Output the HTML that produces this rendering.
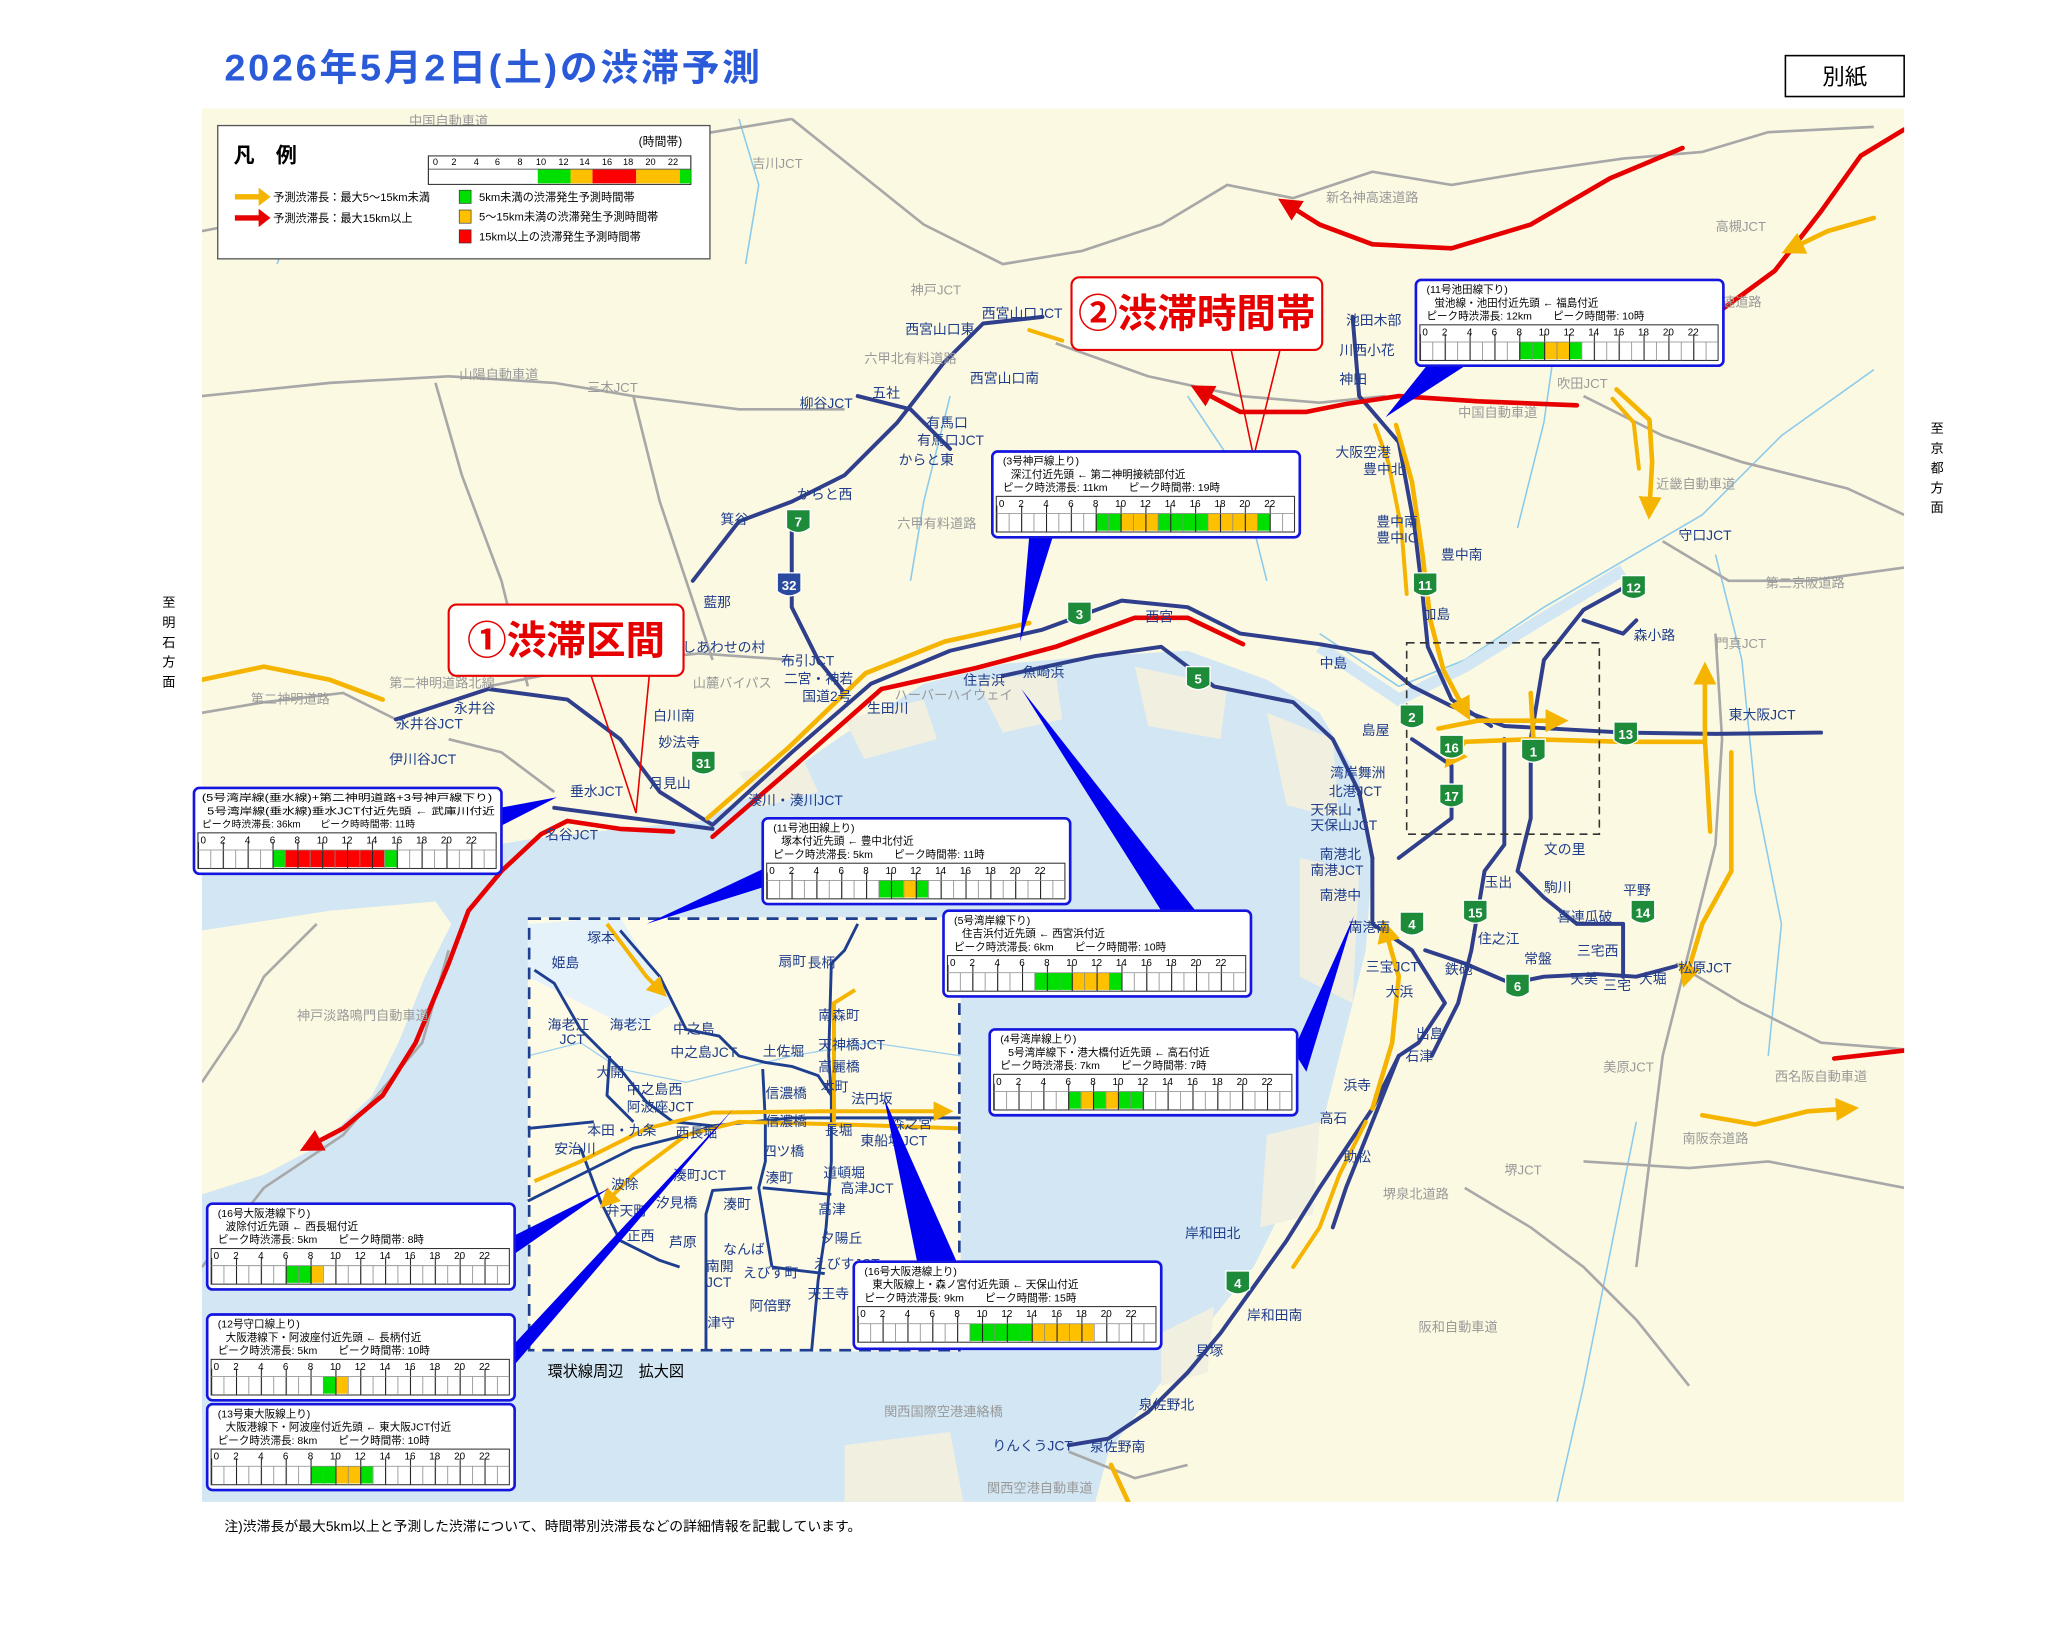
<!DOCTYPE html>
<html><head><meta charset="utf-8"><style>
html,body{margin:0;padding:0;background:#fff;}
svg{display:block;}
text{font-family:"Liberation Sans","Noto Sans CJK JP",sans-serif;}
</style></head><body>
<svg width="2048" height="1638" viewBox="0 0 1552 1241" xmlns="http://www.w3.org/2000/svg">
<defs>
<pattern id="cells" x="3" y="0" width="9.4167" height="14" patternUnits="userSpaceOnUse"><line x1="0.3" y1="0" x2="0.3" y2="14" stroke="#888" stroke-width="0.6"/></pattern>
<pattern id="ticks" x="3" y="0" width="18.833" height="30" patternUnits="userSpaceOnUse"><line x1="0.4" y1="0" x2="0.4" y2="30" stroke="#222" stroke-width="0.8"/></pattern>
<marker id="ao" markerWidth="5" markerHeight="5" refX="2.5" refY="2.5" orient="auto" markerUnits="strokeWidth"><path d="M0,0 L5,2.5 L0,5 Z" fill="#f5b400"/></marker>
<marker id="ar" markerWidth="5" markerHeight="5" refX="2.5" refY="2.5" orient="auto" markerUnits="strokeWidth"><path d="M0,0 L5,2.5 L0,5 Z" fill="#e60000"/></marker>
</defs>

<!-- title -->
<text x="170" y="61" font-size="28" font-weight="bold" fill="#2a5ad8" letter-spacing="2" textLength="408" lengthAdjust="spacingAndGlyphs">2026年5月2日(土)の渋滞予測</text>
<rect x="1353" y="42" width="90" height="31" fill="#fff" stroke="#000" stroke-width="1.2"/>
<text x="1398" y="64" font-size="17" text-anchor="middle">別紙</text>
<text x="128" y="460" font-size="10" text-anchor="middle">至</text>
<text x="128" y="475" font-size="10" text-anchor="middle">明</text>
<text x="128" y="490" font-size="10" text-anchor="middle">石</text>
<text x="128" y="505" font-size="10" text-anchor="middle">方</text>
<text x="128" y="520" font-size="10" text-anchor="middle">面</text>
<text x="1468" y="328" font-size="10" text-anchor="middle">至</text>
<text x="1468" y="343" font-size="10" text-anchor="middle">京</text>
<text x="1468" y="358" font-size="10" text-anchor="middle">都</text>
<text x="1468" y="373" font-size="10" text-anchor="middle">方</text>
<text x="1468" y="388" font-size="10" text-anchor="middle">面</text>
<text x="170" y="1160" font-size="10.5">注)渋滞長が最大5km以上と予測した渋滞について、時間帯別渋滞長などの詳細情報を記載しています。</text>

<!-- map -->
<svg x="153" y="82" width="1290" height="1056" viewBox="153 82 1290 1056" overflow="hidden">
<rect x="153" y="82" width="1290" height="1056" fill="#fcf9e2"/>
<path d="M153,655 L250,645 L330,648 L400,636 L470,628 L530,622 L580,598 L640,556 L700,518 L760,503 L830,497 L900,493 L960,515 L1000,540 L1030,590 L1040,650 L1035,720 L1020,780 L1005,840 L980,900 L950,960 L910,1010 L870,1060 L840,1100 L830,1138 L153,1138 Z" fill="#d2e6f3"/>
<path d="M153,705 L250,690 L330,683 L342,700 L322,740 L302,790 L282,830 L242,868 L200,890 L153,905 Z" fill="#fcf9e2"/>
<path d="M560,585 L610,578 L620,600 L575,612 Z" fill="#f1efe0"/>
<path d="M640,545 L700,530 L710,560 L655,575 Z" fill="#f1efe0"/>
<path d="M740,515 L800,510 L805,545 L760,555 Z" fill="#f1efe0"/>
<path d="M860,505 L930,520 L925,560 L870,550 Z" fill="#f1efe0"/>
<path d="M960,540 L1010,560 L1015,620 L975,610 Z" fill="#f1efe0"/>
<path d="M985,650 L1030,660 L1025,760 L985,740 Z" fill="#f1efe0"/>
<path d="M960,860 L1000,850 L995,920 L955,930 Z" fill="#f1efe0"/>
<path d="M880,1010 L920,990 L915,1040 L880,1050 Z" fill="#f1efe0"/>
<path d="M640,1095 L720,1085 L730,1138 L640,1138 Z" fill="#f1efe0"/>
<g fill="none" stroke="#8ccbec" stroke-width="1.2">
<path d="M1000,480 L1060,520 L1110,500 L1170,460 L1230,425 L1290,390 L1350,330 L1420,280"/>
<path d="M560,90 L575,140 L565,200"/>
<path d="M900,300 L940,360 L960,440"/>
<path d="M1180,250 L1170,320 L1150,400"/>
<path d="M1300,420 L1320,500 L1330,600 L1350,700 L1340,800"/>
<path d="M1240,850 L1220,950 L1200,1050 L1180,1138"/>
<path d="M200,100 L230,140 L210,200"/>
<path d="M720,300 L700,380 L690,440"/>
</g>
<path d="M1000,490 L1060,530 L1110,505 L1170,468 L1230,432" fill="none" stroke="#d2e6f3" stroke-width="9"/>
<g fill="none" stroke="#a8a8a8" stroke-width="2">
<path d="M153,175 L230,160 L300,150 L380,135 L460,110 L540,100 L600,90"/>
<path d="M153,300 L250,290 L340,285 L420,290 L480,300 L560,310 L640,310"/>
<path d="M480,300 L500,380 L520,440 L540,500"/>
<path d="M600,90 L650,130 L700,170 L760,200 L820,190 L880,170 L930,140 L980,150 L1040,130 L1100,140 L1160,130 L1230,120 L1290,115 L1340,100 L1420,96"/>
<path d="M800,260 L870,285 L940,300 L1000,305 L1050,300"/>
<path d="M153,540 L200,532 L260,525 L300,545"/>
<path d="M370,520 L420,510 L480,500 L530,495 L600,500"/>
<path d="M340,560 L380,570 L420,600"/>
<path d="M1200,300 L1260,330 L1320,350 L1400,370 L1443,390"/>
<path d="M1260,410 L1310,440 L1370,440 L1443,430"/>
<path d="M1300,480 L1305,560 L1300,640 L1280,720 L1260,800 L1250,880 L1240,960"/>
<path d="M1270,730 L1320,760 L1380,790 L1443,795"/>
<path d="M1200,880 L1280,885 L1340,880 L1443,900"/>
<path d="M1110,900 L1160,930 L1200,960 L1240,1000 L1280,1050"/>
<path d="M810,1100 L860,1120 L900,1110"/>
<path d="M153,820 L180,780 L200,740 L240,700"/>
<path d="M153,960 L200,900 L260,860 L320,790 L340,720"/>
<path d="M330,290 L350,360 L380,440 L400,520"/>
</g>
<rect x="400" y="695" width="328" height="329" fill="#fdfbe6"/>
<path d="M400,700 L470,695 L510,760 L480,780 L440,760 L400,740 Z" fill="#e6f2fa"/>
<path d="M400,800 L440,790 L470,810 L520,820 L560,810 L600,800 L660,790 L728,800" fill="none" stroke="#9fd0ee" stroke-width="1"/>
<g fill="none" stroke="#2f3f8c" stroke-width="3" stroke-linejoin="round" stroke-linecap="round">
<path d="M300,545 L370,522 L430,530 L470,560 L500,600 L540,625 L600,570 L660,518 L720,493 L790,477 L850,455 L900,460 L940,480 L1000,488 L1040,495 L1070,520 L1100,535 L1140,550 L1230,555 L1300,556 L1380,555"/>
<path d="M420,612 L480,620 L540,628"/>
<path d="M760,512 L830,497 L880,490 L920,520 L980,532 L1010,560 L1030,600 L1040,650"/>
<path d="M525,440 L560,395 L600,380 L640,360 L680,320 L715,275 L745,245 L790,240"/>
<path d="M600,400 L600,460 L620,500 L640,525"/>
<path d="M650,300 L690,310 L720,340"/>
<path d="M1025,240 L1030,300 L1060,335 L1072,400 L1078,450 L1082,490 L1100,530 L1130,550"/>
<path d="M1240,440 L1200,462 L1170,500 L1160,560 L1160,620 L1150,660 L1170,680 L1195,700 L1230,700 L1230,740"/>
<path d="M1140,560 L1140,640 L1125,660 L1120,690 L1115,720 L1105,760 L1085,800"/>
<path d="M1040,650 L1040,700 L1070,720 L1095,760 L1075,790 L1060,800 L1040,840 L1020,870 L1000,900 L975,940 L950,975 L925,1010 L900,1040 L870,1070 L840,1090 L810,1095"/>
<path d="M1080,720 L1110,730 L1145,745 L1170,740 L1210,738 L1240,740 L1270,732"/>
<path d="M1060,800 L1040,850 L1020,900 L1010,930"/>
<path d="M1070,560 L1100,580 L1100,620 L1060,650"/>
<path d="M1200,470 L1230,480 L1240,470"/>
</g>
<g fill="none" stroke-linecap="round" stroke-linejoin="round">
<path d="M1443,98 L1410,118 L1380,160 L1345,205 L1300,238 L1272,252" stroke="#e60000" stroke-width="3.5"/>
<path d="M1275,112 L1220,135 L1160,170 L1100,188 L1040,185 L1000,170 L976,155" stroke="#e60000" stroke-width="3.5" marker-end="url(#ar)"/>
<path d="M1195,307 L1120,304 L1060,300 L1020,306 L990,312 L940,312 L910,296" stroke="#e60000" stroke-width="3.5" marker-end="url(#ar)"/>
<path d="M540,634 L600,582 L668,522 L740,506 L800,490 L860,468 L900,468 L942,488" stroke="#e60000" stroke-width="3.5"/>
<path d="M536,620 L598,566 L656,510 L716,486 L780,472" stroke="#f5b400" stroke-width="3.5"/>
<path d="M510,630 L470,628 L430,622 L410,632 L380,660 L355,690 L340,730 L315,790 L290,830 L260,855 L235,868" stroke="#e60000" stroke-width="3.5" marker-end="url(#ar)"/>
<path d="M153,515 L200,505 L250,515 L290,530" stroke="#f5b400" stroke-width="3.5"/>
<path d="M1058,322 L1070,365 L1078,420 L1084,470 L1094,508 L1110,538" stroke="#f5b400" stroke-width="3.5" marker-end="url(#ao)"/>
<path d="M1066,450 L1062,400 L1052,350 L1042,322" stroke="#f5b400" stroke-width="3" />
<path d="M1225,295 L1250,318 L1252,350 L1250,385" stroke="#f5b400" stroke-width="3.5" marker-end="url(#ao)"/>
<path d="M1242,355 L1238,320 L1222,302" stroke="#f5b400" stroke-width="3"/>
<path d="M1420,165 L1385,175 L1358,188" stroke="#f5b400" stroke-width="3.5" marker-end="url(#ao)"/>
<path d="M1090,552 L1120,546 L1180,546" stroke="#f5b400" stroke-width="3.5" marker-end="url(#ao)"/>
<path d="M1290,562 L1230,562 L1160,560 L1110,562 L1100,575" stroke="#f5b400" stroke-width="3.5" marker-end="url(#ao)"/>
<path d="M1160,525 L1162,560" stroke="#f5b400" stroke-width="3.5"/>
<path d="M1296,630 L1292,560 L1292,510" stroke="#f5b400" stroke-width="3.5" marker-end="url(#ao)"/>
<path d="M1312,570 L1312,660 L1290,700 L1278,740" stroke="#f5b400" stroke-width="3.5" marker-end="url(#ao)"/>
<path d="M1040,840 L1055,790 L1060,740 L1050,705" stroke="#f5b400" stroke-width="3.5" marker-end="url(#ao)"/>
<path d="M1035,850 L1015,890 L1000,930 L980,960" stroke="#f5b400" stroke-width="3"/>
<path d="M842,1110 L855,1138" stroke="#f5b400" stroke-width="3.5"/>
<path d="M1290,845 L1330,852 L1370,842 L1400,840" stroke="#f5b400" stroke-width="3.5" marker-end="url(#ao)"/>
<path d="M1390,802 L1443,796" stroke="#e60000" stroke-width="3.5"/>
<path d="M780,250 L805,258" stroke="#f5b400" stroke-width="3"/>
</g>
<g fill="none" stroke="#1e3f8f" stroke-width="2.2" stroke-linejoin="round">
<path d="M470,705 L500,740 L520,780 L545,785 L560,800 L580,805 L600,808 L620,815 L630,830"/>
<path d="M405,735 L420,745 L440,780 L470,810 L490,835 L510,850 L540,853 L600,847 L728,847"/>
<path d="M462,800 L460,830 L480,850"/>
<path d="M400,855 L450,850"/>
<path d="M650,700 L640,720 L630,730 L628,800 L630,830 L630,880 L626,930 L620,970 L615,1024"/>
<path d="M578,810 L580,850 L580,880 L575,900 L580,930 L585,960"/>
<path d="M400,910 L440,890 L480,870 L520,860 L540,853"/>
<path d="M440,870 L455,910 L470,940 L500,955 L515,960"/>
<path d="M570,900 L540,902 L535,920 L535,1024"/>
<path d="M578,900 L630,905"/>
<path d="M585,960 L600,962 L625,965"/>
</g>
<path d="M405,895 L440,880 L490,855 L540,843 L620,842 L715,842" fill="none" stroke="#f5b400" stroke-width="3" marker-end="url(#ao)"/>
<path d="M728,855 L640,852 L560,850 L520,860 L480,890 L460,910" fill="none" stroke="#f5b400" stroke-width="3" marker-end="url(#ao)"/>
<path d="M648,750 L632,760 L632,850" fill="none" stroke="#f5b400" stroke-width="3"/>
<path d="M460,700 L490,740 L500,750" fill="none" stroke="#f5b400" stroke-width="3" marker-end="url(#ao)"/>
<rect x="401" y="696" width="326" height="327" fill="none" stroke="#1e3f8f" stroke-width="2" stroke-dasharray="9,6"/>
<rect x="1066" y="487" width="146" height="145" fill="none" stroke="#333" stroke-width="1.2" stroke-dasharray="6,4"/>
<g font-size="10" font-weight="bold" fill="#fff" text-anchor="middle">
<g transform="translate(605,395)"><path d="M-9,-9 H9 V5 Q0,12 -9,5 Z" fill="#1d8b3a" stroke="#fff"/><text y="4">7</text></g>
<g transform="translate(598,443)"><path d="M-9,-9 H9 V5 Q0,12 -9,5 Z" fill="#2a4aa0" stroke="#fff"/><text y="4">32</text></g>
<g transform="translate(818,465)"><path d="M-9,-9 H9 V5 Q0,12 -9,5 Z" fill="#1d8b3a" stroke="#fff"/><text y="4">3</text></g>
<g transform="translate(533,578)"><path d="M-9,-9 H9 V5 Q0,12 -9,5 Z" fill="#1d8b3a" stroke="#fff"/><text y="4">31</text></g>
<g transform="translate(908,514)"><path d="M-9,-9 H9 V5 Q0,12 -9,5 Z" fill="#1d8b3a" stroke="#fff"/><text y="4">5</text></g>
<g transform="translate(1080,443)"><path d="M-9,-9 H9 V5 Q0,12 -9,5 Z" fill="#1d8b3a" stroke="#fff"/><text y="4">11</text></g>
<g transform="translate(1238,445)"><path d="M-9,-9 H9 V5 Q0,12 -9,5 Z" fill="#1d8b3a" stroke="#fff"/><text y="4">12</text></g>
<g transform="translate(1070,543)"><path d="M-9,-9 H9 V5 Q0,12 -9,5 Z" fill="#1d8b3a" stroke="#fff"/><text y="4">2</text></g>
<g transform="translate(1100,566)"><path d="M-9,-9 H9 V5 Q0,12 -9,5 Z" fill="#1d8b3a" stroke="#fff"/><text y="4">16</text></g>
<g transform="translate(1162,569)"><path d="M-9,-9 H9 V5 Q0,12 -9,5 Z" fill="#1d8b3a" stroke="#fff"/><text y="4">1</text></g>
<g transform="translate(1232,556)"><path d="M-9,-9 H9 V5 Q0,12 -9,5 Z" fill="#1d8b3a" stroke="#fff"/><text y="4">13</text></g>
<g transform="translate(1100,603)"><path d="M-9,-9 H9 V5 Q0,12 -9,5 Z" fill="#1d8b3a" stroke="#fff"/><text y="4">17</text></g>
<g transform="translate(1118,691)"><path d="M-9,-9 H9 V5 Q0,12 -9,5 Z" fill="#1d8b3a" stroke="#fff"/><text y="4">15</text></g>
<g transform="translate(1070,700)"><path d="M-9,-9 H9 V5 Q0,12 -9,5 Z" fill="#1d8b3a" stroke="#fff"/><text y="4">4</text></g>
<g transform="translate(1245,691)"><path d="M-9,-9 H9 V5 Q0,12 -9,5 Z" fill="#1d8b3a" stroke="#fff"/><text y="4">14</text></g>
<g transform="translate(1150,747)"><path d="M-9,-9 H9 V5 Q0,12 -9,5 Z" fill="#1d8b3a" stroke="#fff"/><text y="4">6</text></g>
<g transform="translate(938,972)"><path d="M-9,-9 H9 V5 Q0,12 -9,5 Z" fill="#1d8b3a" stroke="#fff"/><text y="4">4</text></g>
</g>
<g font-size="10" fill="#999">
<text x="310" y="95">中国自動車道</text><text x="570" y="127">吉川JCT</text><text x="1005" y="153">新名神高速道路</text>
<text x="348" y="287">山陽自動車道</text><text x="445" y="297">三木JCT</text><text x="690" y="223">神戸JCT</text>
<text x="655" y="275">六甲北有料道路</text><text x="680" y="400">六甲有料道路</text><text x="190" y="533">第二神明道路</text>
<text x="295" y="521">第二神明道路北線</text><text x="1180" y="294">吹田JCT</text><text x="1105" y="316">中国自動車道</text>
<text x="1255" y="370">近畿自動車道</text><text x="1338" y="445">第二京阪道路</text><text x="1300" y="491">門真JCT</text>
<text x="1300" y="175">高槻JCT</text><text x="1305" y="232">速道路</text><text x="225" y="773">神戸淡路鳴門自動車道</text>
<text x="1215" y="812">美原JCT</text><text x="1345" y="819">西名阪自動車道</text><text x="1275" y="866">南阪奈道路</text>
<text x="1140" y="890">堺JCT</text><text x="1048" y="908">堺泉北道路</text><text x="1075" y="1009">阪和自動車道</text>
<text x="670" y="1073">関西国際空港連絡橋</text><text x="748" y="1131">関西空港自動車道</text><text x="525" y="521">山麓バイパス</text>
<text x="678" y="530">ハーバーハイウェイ</text>
</g>
<g font-size="10.5" fill="#1f3d8a">
<text x="686" y="253">西宮山口東</text><text x="744" y="241">西宮山口JCT</text><text x="735" y="290">西宮山口南</text>
<text x="606" y="309">柳谷JCT</text><text x="661" y="301">五社</text><text x="702" y="324">有馬口</text><text x="695" y="337">有馬口JCT</text>
<text x="681" y="352">からと東</text><text x="604" y="378">からと西</text><text x="546" y="397">箕谷</text><text x="533" y="460">藍那</text>
<text x="517" y="494">しあわせの村</text><text x="592" y="504">布引JCT</text><text x="594" y="518">二宮・神若</text><text x="608" y="531">国道2号</text>
<text x="657" y="540">生田川</text><text x="495" y="546">白川南</text><text x="499" y="566">妙法寺</text><text x="492" y="597">月見山</text>
<text x="567" y="610">湊川・湊川JCT</text><text x="432" y="603">垂水JCT</text><text x="413" y="636">名谷JCT</text>
<text x="344" y="540">永井谷</text><text x="300" y="552">永井谷JCT</text><text x="295" y="579">伊川谷JCT</text>
<text x="730" y="519">住吉浜</text><text x="775" y="513">魚崎浜</text><text x="868" y="471">西宮</text>
<text x="1020" y="246">池田木部</text><text x="1015" y="269">川西小花</text><text x="1015" y="291">神田</text>
<text x="1012" y="346">大阪空港</text><text x="1033" y="359">豊中北</text><text x="1043" y="399">豊中南</text><text x="1043" y="411">豊中IC</text>
<text x="1092" y="424">豊中南</text><text x="1272" y="409">守口JCT</text><text x="1238" y="485">森小路</text><text x="1078" y="469">加島</text>
<text x="1310" y="545">東大阪JCT</text><text x="1170" y="647">文の里</text><text x="1125" y="672">玉出</text><text x="1170" y="676">駒川</text>
<text x="1230" y="678">平野</text><text x="1180" y="698">喜連瓜破</text><text x="1120" y="715">住之江</text><text x="1095" y="738">鉄砲</text>
<text x="1155" y="730">常盤</text><text x="1195" y="724">三宅西</text><text x="1190" y="745">天美</text><text x="1215" y="750">三宅</text>
<text x="1242" y="745">大堀</text><text x="1272" y="737">松原JCT</text><text x="1035" y="736">三宝JCT</text><text x="1050" y="755">大浜</text>
<text x="1073" y="787">出島</text><text x="1065" y="804">石津</text><text x="1018" y="826">浜寺</text><text x="1000" y="851">高石</text>
<text x="1018" y="880">助松</text><text x="898" y="938">岸和田北</text><text x="945" y="1000">岸和田南</text><text x="906" y="1027">貝塚</text>
<text x="863" y="1068">泉佐野北</text><text x="752" y="1099">りんくうJCT</text><text x="826" y="1100">泉佐野南</text>
<text x="1008" y="589">湾岸舞洲</text><text x="1007" y="603">北港JCT</text><text x="993" y="617">天保山・</text><text x="993" y="629">天保山JCT</text>
<text x="1000" y="651">南港北</text><text x="993" y="663">南港JCT</text><text x="1000" y="682">南港中</text><text x="1022" y="706">南港南</text>
<text x="1000" y="506">中島</text><text x="1032" y="557">島屋</text>
</g>
<g font-size="10.5" fill="#1f3d8a">
<text x="418" y="733">姫島</text><text x="445" y="714">塚本</text><text x="415" y="780">海老江</text><text x="424" y="791">JCT</text>
<text x="462" y="780">海老江</text><text x="452" y="816">大開</text><text x="510" y="783">中之島</text><text x="508" y="801">中之島JCT</text>
<text x="475" y="829">中之島西</text><text x="475" y="842">阿波座JCT</text><text x="445" y="860">本田・九条</text><text x="512" y="862">西長堀</text>
<text x="420" y="874">安治川</text><text x="463" y="901">波除</text><text x="459" y="921">弁天町</text><text x="475" y="940">正西</text>
<text x="507" y="945">芦原</text><text x="510" y="894">湊町JCT</text><text x="497" y="915">汐見橋</text><text x="548" y="916">湊町</text>
<text x="578" y="800">土佐堀</text><text x="580" y="832">信濃橋</text><text x="580" y="853">信濃橋</text><text x="578" y="876">四ツ橋</text>
<text x="580" y="896">湊町</text><text x="620" y="773">南森町</text><text x="620" y="795">天神橋JCT</text><text x="620" y="812">高麗橋</text>
<text x="622" y="827">本町</text><text x="645" y="836">法円坂</text><text x="625" y="860">長堀</text><text x="675" y="855">森之宮</text>
<text x="652" y="868">東船場JCT</text><text x="624" y="892">道頓堀</text><text x="637" y="904">高津JCT</text><text x="620" y="920">高津</text>
<text x="622" y="942">夕陽丘</text><text x="548" y="950">なんば</text><text x="563" y="968">えびす町</text><text x="616" y="961">えびすJCT</text>
<text x="612" y="984">天王寺</text><text x="568" y="993">阿倍野</text><text x="536" y="1006">津守</text><text x="535" y="963">南開</text><text x="535" y="975">JCT</text>
<text x="590" y="732">扇町</text><text x="612" y="733">長柄</text>
</g>
<g fill="#0000ee">
<path d="M379,612 L379,626 L422,604 Z"/>
<path d="M780,406 L798,406 L773,486 Z"/>
<path d="M1082,276 L1112,276 L1050,316 Z"/>
<path d="M579,658 L579,672 L490,700 Z"/>
<path d="M880,690 L906,690 L774,522 Z"/>
<path d="M980,796 L990,812 L1026,694 Z"/>
<path d="M390,936 L390,950 L462,900 Z"/>
<path d="M390,1018 L390,1034 L556,840 Z"/>
<path d="M695,956 L725,956 L670,832 Z"/>
</g>
</svg>

<path d="M448,512 L482,616 L492,512" fill="none" stroke="#e60000" stroke-width="1.2"/>
<rect x="340" y="458" width="178" height="54" rx="6" fill="#fff" stroke="#e60000" stroke-width="1.6"/>
<text x="429" y="496" font-size="30" font-weight="bold" fill="#e60000" text-anchor="middle">①渋滞区間</text>
<path d="M933,265 L950,346 L970,265" fill="none" stroke="#e60000" stroke-width="1.2"/>
<rect x="812" y="210" width="190" height="55" rx="6" fill="#fff" stroke="#e60000" stroke-width="1.6"/>
<text x="907" y="248" font-size="30" font-weight="bold" fill="#e60000" text-anchor="middle">②渋滞時間帯</text>

<rect x="165" y="95" width="373" height="101" fill="#fff" stroke="#555" stroke-width="1"/>
<text x="177" y="123" font-size="16" font-weight="bold">凡　例</text>
<text x="484" y="110" font-size="9">(時間帯)</text>
<g transform="translate(322,82) scale(0.88,0.8)">
<rect x="3" y="45" width="226" height="27" fill="#fff" stroke="#333" stroke-width="1"/>
<rect x="97.2" y="58" width="28.25" height="13" fill="#00e000"/><rect x="125.4" y="58" width="18.8" height="13" fill="#ffc000"/>
<rect x="144.3" y="58" width="37.7" height="13" fill="#ff0000"/><rect x="182" y="58" width="37.7" height="13" fill="#ffc000"/><rect x="219.6" y="58" width="9.42" height="13" fill="#00e000"/>
</g>
<text font-size="7" y="125" text-anchor="middle"><tspan x="330">0</tspan><tspan x="344">2</tspan><tspan x="361">4</tspan><tspan x="377">6</tspan><tspan x="394">8</tspan><tspan x="410">10</tspan><tspan x="427">12</tspan><tspan x="443">14</tspan><tspan x="460">16</tspan><tspan x="476">18</tspan><tspan x="493">20</tspan><tspan x="510">22</tspan></text>
<line x1="325" y1="128" x2="524" y2="128" stroke="#333" stroke-width="0.6"/>
<path d="M178,147 L196,147 L196,142 L205,149 L196,156 L196,151 L178,151 Z" fill="#f5b400"/>
<path d="M178,163 L196,163 L196,158 L205,165 L196,172 L196,167 L178,167 Z" fill="#e60000"/>
<text x="207" y="152" font-size="8.5">予測渋滞長：最大5～15km未満</text>
<text x="207" y="168" font-size="8.5">予測渋滞長：最大15km以上</text>
<rect x="348" y="144" width="9" height="10" fill="#00e000" stroke="#333" stroke-width="0.5"/>
<rect x="348" y="159" width="9" height="10" fill="#ffc000" stroke="#333" stroke-width="0.5"/>
<rect x="348" y="174" width="9" height="10" fill="#ff0000" stroke="#333" stroke-width="0.5"/>
<text x="363" y="152" font-size="8.5">5km未満の渋滞発生予測時間帯</text>
<text x="363" y="167" font-size="8.5">5～15km未満の渋滞発生予測時間帯</text>
<text x="363" y="182" font-size="8.5">15km以上の渋滞発生予測時間帯</text>

<g transform="translate(147,597)">
<rect x="0" y="0" width="233" height="65" rx="4" fill="#fff" stroke="#1515e0" stroke-width="2"/>
<text x="6" y="10" font-size="7.5" textLength="220" lengthAdjust="spacingAndGlyphs">(5号湾岸線(垂水線)+第二神明道路+3号神戸線下り)</text>
<text x="10" y="20" font-size="7.5" textLength="218" lengthAdjust="spacingAndGlyphs">5号湾岸線(垂水線)垂水JCT付近先頭 ← 武庫川付近</text>
<text x="6" y="30" font-size="7.5">ピーク時渋滞長:  36km　　ピーク時時間帯:  11時</text>
<rect x="3" y="34" width="226" height="27" fill="#fff" stroke="#333" stroke-width="0.8"/>
<rect x="59.5" y="47" width="9.42" height="13" fill="#00e000"/><rect x="68.9" y="47" width="75.3" height="13" fill="#ff0000"/><rect x="144.3" y="47" width="9.42" height="13" fill="#00e000"/>
<rect x="3" y="47" width="226" height="14" fill="url(#cells)"/><rect x="3" y="41" width="226" height="20" fill="url(#ticks)"/>
<line x1="3" y1="47" x2="229" y2="47" stroke="#888" stroke-width="0.6"/>
<text font-size="7.5" y="42" text-anchor="middle"><tspan x="7">0</tspan><tspan x="21.8">2</tspan><tspan x="40.7">4</tspan><tspan x="59.5">6</tspan><tspan x="78.3">8</tspan><tspan x="97.2">10</tspan><tspan x="116">12</tspan><tspan x="134.8">14</tspan><tspan x="153.7">16</tspan><tspan x="172.5">18</tspan><tspan x="191.3">20</tspan><tspan x="210.2">22</tspan></text>
</g>

<g transform="translate(752,342)">
<rect x="0" y="0" width="233" height="65" rx="4" fill="#fff" stroke="#1515e0" stroke-width="2"/>
<text x="8" y="10" font-size="8">(3号神戸線上り)</text>
<text x="14" y="20" font-size="8">深江付近先頭 ← 第二神明接続部付近</text>
<text x="8" y="30" font-size="8">ピーク時渋滞長:  11km　　ピーク時間帯:  19時</text>
<rect x="3" y="34" width="226" height="27" fill="#fff" stroke="#333" stroke-width="0.8"/>
<rect x="78.3" y="47" width="18.8" height="13" fill="#00e000"/><rect x="97.2" y="47" width="28.25" height="13" fill="#ffc000"/><rect x="125.4" y="47" width="37.7" height="13" fill="#00e000"/><rect x="163.1" y="47" width="37.7" height="13" fill="#ffc000"/><rect x="200.8" y="47" width="9.42" height="13" fill="#00e000"/>
<rect x="3" y="47" width="226" height="14" fill="url(#cells)"/><rect x="3" y="41" width="226" height="20" fill="url(#ticks)"/>
<line x1="3" y1="47" x2="229" y2="47" stroke="#888" stroke-width="0.6"/>
<text font-size="7.5" y="42" text-anchor="middle"><tspan x="7">0</tspan><tspan x="21.8">2</tspan><tspan x="40.7">4</tspan><tspan x="59.5">6</tspan><tspan x="78.3">8</tspan><tspan x="97.2">10</tspan><tspan x="116">12</tspan><tspan x="134.8">14</tspan><tspan x="153.7">16</tspan><tspan x="172.5">18</tspan><tspan x="191.3">20</tspan><tspan x="210.2">22</tspan></text>
</g>

<g transform="translate(1073,212)">
<rect x="0" y="0" width="233" height="65" rx="4" fill="#fff" stroke="#1515e0" stroke-width="2"/>
<text x="8" y="10" font-size="8">(11号池田線下り)</text>
<text x="14" y="20" font-size="8">蛍池線・池田付近先頭 ← 福島付近</text>
<text x="8" y="30" font-size="8">ピーク時渋滞長:  12km　　ピーク時間帯:  10時</text>
<rect x="3" y="34" width="226" height="27" fill="#fff" stroke="#333" stroke-width="0.8"/>
<rect x="78.3" y="47" width="18.8" height="13" fill="#00e000"/><rect x="97.2" y="47" width="18.8" height="13" fill="#ffc000"/><rect x="116" y="47" width="9.42" height="13" fill="#00e000"/>
<rect x="3" y="47" width="226" height="14" fill="url(#cells)"/><rect x="3" y="41" width="226" height="20" fill="url(#ticks)"/>
<line x1="3" y1="47" x2="229" y2="47" stroke="#888" stroke-width="0.6"/>
<text font-size="7.5" y="42" text-anchor="middle"><tspan x="7">0</tspan><tspan x="21.8">2</tspan><tspan x="40.7">4</tspan><tspan x="59.5">6</tspan><tspan x="78.3">8</tspan><tspan x="97.2">10</tspan><tspan x="116">12</tspan><tspan x="134.8">14</tspan><tspan x="153.7">16</tspan><tspan x="172.5">18</tspan><tspan x="191.3">20</tspan><tspan x="210.2">22</tspan></text>
</g>

<g transform="translate(578,620)">
<rect x="0" y="0" width="233" height="65" rx="4" fill="#fff" stroke="#1515e0" stroke-width="2"/>
<text x="8" y="10" font-size="8">(11号池田線上り)</text>
<text x="14" y="20" font-size="8">塚本付近先頭 ← 豊中北付近</text>
<text x="8" y="30" font-size="8">ピーク時渋滞長:  5km　　ピーク時間帯:  11時</text>
<rect x="3" y="34" width="226" height="27" fill="#fff" stroke="#333" stroke-width="0.8"/>
<rect x="87.75" y="47" width="18.8" height="13" fill="#00e000"/><rect x="106.6" y="47" width="9.42" height="13" fill="#ffc000"/><rect x="116" y="47" width="9.42" height="13" fill="#00e000"/>
<rect x="3" y="47" width="226" height="14" fill="url(#cells)"/><rect x="3" y="41" width="226" height="20" fill="url(#ticks)"/>
<line x1="3" y1="47" x2="229" y2="47" stroke="#888" stroke-width="0.6"/>
<text font-size="7.5" y="42" text-anchor="middle"><tspan x="7">0</tspan><tspan x="21.8">2</tspan><tspan x="40.7">4</tspan><tspan x="59.5">6</tspan><tspan x="78.3">8</tspan><tspan x="97.2">10</tspan><tspan x="116">12</tspan><tspan x="134.8">14</tspan><tspan x="153.7">16</tspan><tspan x="172.5">18</tspan><tspan x="191.3">20</tspan><tspan x="210.2">22</tspan></text>
</g>

<g transform="translate(715,690)">
<rect x="0" y="0" width="233" height="65" rx="4" fill="#fff" stroke="#1515e0" stroke-width="2"/>
<text x="8" y="10" font-size="8">(5号湾岸線下り)</text>
<text x="14" y="20" font-size="8">住吉浜付近先頭 ← 西宮浜付近</text>
<text x="8" y="30" font-size="8">ピーク時渋滞長:  6km　　ピーク時間帯:  10時</text>
<rect x="3" y="34" width="226" height="27" fill="#fff" stroke="#333" stroke-width="0.8"/>
<rect x="68.9" y="47" width="28.25" height="13" fill="#00e000"/><rect x="97.2" y="47" width="28.25" height="13" fill="#ffc000"/><rect x="125.4" y="47" width="9.42" height="13" fill="#00e000"/>
<rect x="3" y="47" width="226" height="14" fill="url(#cells)"/><rect x="3" y="41" width="226" height="20" fill="url(#ticks)"/>
<line x1="3" y1="47" x2="229" y2="47" stroke="#888" stroke-width="0.6"/>
<text font-size="7.5" y="42" text-anchor="middle"><tspan x="7">0</tspan><tspan x="21.8">2</tspan><tspan x="40.7">4</tspan><tspan x="59.5">6</tspan><tspan x="78.3">8</tspan><tspan x="97.2">10</tspan><tspan x="116">12</tspan><tspan x="134.8">14</tspan><tspan x="153.7">16</tspan><tspan x="172.5">18</tspan><tspan x="191.3">20</tspan><tspan x="210.2">22</tspan></text>
</g>

<g transform="translate(750,780)">
<rect x="0" y="0" width="233" height="65" rx="4" fill="#fff" stroke="#1515e0" stroke-width="2"/>
<text x="8" y="10" font-size="8">(4号湾岸線上り)</text>
<text x="14" y="20" font-size="8">5号湾岸線下・港大橋付近先頭 ← 高石付近</text>
<text x="8" y="30" font-size="8">ピーク時渋滞長:  7km　　ピーク時間帯:  7時</text>
<rect x="3" y="34" width="226" height="27" fill="#fff" stroke="#333" stroke-width="0.8"/>
<rect x="59.5" y="47" width="9.42" height="13" fill="#00e000"/><rect x="68.9" y="47" width="9.42" height="13" fill="#ffc000"/><rect x="78.3" y="47" width="9.42" height="13" fill="#00e000"/><rect x="87.75" y="47" width="9.42" height="13" fill="#ffc000"/><rect x="97.2" y="47" width="18.8" height="13" fill="#00e000"/>
<rect x="3" y="47" width="226" height="14" fill="url(#cells)"/><rect x="3" y="41" width="226" height="20" fill="url(#ticks)"/>
<line x1="3" y1="47" x2="229" y2="47" stroke="#888" stroke-width="0.6"/>
<text font-size="7.5" y="42" text-anchor="middle"><tspan x="7">0</tspan><tspan x="21.8">2</tspan><tspan x="40.7">4</tspan><tspan x="59.5">6</tspan><tspan x="78.3">8</tspan><tspan x="97.2">10</tspan><tspan x="116">12</tspan><tspan x="134.8">14</tspan><tspan x="153.7">16</tspan><tspan x="172.5">18</tspan><tspan x="191.3">20</tspan><tspan x="210.2">22</tspan></text>
</g>

<g transform="translate(157,912)">
<rect x="0" y="0" width="233" height="65" rx="4" fill="#fff" stroke="#1515e0" stroke-width="2"/>
<text x="8" y="10" font-size="8">(16号大阪港線下り)</text>
<text x="14" y="20" font-size="8">波除付近先頭 ← 西長堀付近</text>
<text x="8" y="30" font-size="8">ピーク時渋滞長:  5km　　ピーク時間帯:  8時</text>
<rect x="3" y="34" width="226" height="27" fill="#fff" stroke="#333" stroke-width="0.8"/>
<rect x="59.5" y="47" width="18.8" height="13" fill="#00e000"/><rect x="78.3" y="47" width="9.42" height="13" fill="#ffc000"/>
<rect x="3" y="47" width="226" height="14" fill="url(#cells)"/><rect x="3" y="41" width="226" height="20" fill="url(#ticks)"/>
<line x1="3" y1="47" x2="229" y2="47" stroke="#888" stroke-width="0.6"/>
<text font-size="7.5" y="42" text-anchor="middle"><tspan x="7">0</tspan><tspan x="21.8">2</tspan><tspan x="40.7">4</tspan><tspan x="59.5">6</tspan><tspan x="78.3">8</tspan><tspan x="97.2">10</tspan><tspan x="116">12</tspan><tspan x="134.8">14</tspan><tspan x="153.7">16</tspan><tspan x="172.5">18</tspan><tspan x="191.3">20</tspan><tspan x="210.2">22</tspan></text>
</g>

<g transform="translate(157,996)">
<rect x="0" y="0" width="233" height="65" rx="4" fill="#fff" stroke="#1515e0" stroke-width="2"/>
<text x="8" y="10" font-size="8">(12号守口線上り)</text>
<text x="14" y="20" font-size="8">大阪港線下・阿波座付近先頭 ← 長柄付近</text>
<text x="8" y="30" font-size="8">ピーク時渋滞長:  5km　　ピーク時間帯:  10時</text>
<rect x="3" y="34" width="226" height="27" fill="#fff" stroke="#333" stroke-width="0.8"/>
<rect x="87.75" y="47" width="9.42" height="13" fill="#00e000"/><rect x="97.2" y="47" width="9.42" height="13" fill="#ffc000"/>
<rect x="3" y="47" width="226" height="14" fill="url(#cells)"/><rect x="3" y="41" width="226" height="20" fill="url(#ticks)"/>
<line x1="3" y1="47" x2="229" y2="47" stroke="#888" stroke-width="0.6"/>
<text font-size="7.5" y="42" text-anchor="middle"><tspan x="7">0</tspan><tspan x="21.8">2</tspan><tspan x="40.7">4</tspan><tspan x="59.5">6</tspan><tspan x="78.3">8</tspan><tspan x="97.2">10</tspan><tspan x="116">12</tspan><tspan x="134.8">14</tspan><tspan x="153.7">16</tspan><tspan x="172.5">18</tspan><tspan x="191.3">20</tspan><tspan x="210.2">22</tspan></text>
</g>

<g transform="translate(157,1064)">
<rect x="0" y="0" width="233" height="65" rx="4" fill="#fff" stroke="#1515e0" stroke-width="2"/>
<text x="8" y="10" font-size="8">(13号東大阪線上り)</text>
<text x="14" y="20" font-size="8">大阪港線下・阿波座付近先頭 ← 東大阪JCT付近</text>
<text x="8" y="30" font-size="8">ピーク時渋滞長:  8km　　ピーク時間帯:  10時</text>
<rect x="3" y="34" width="226" height="27" fill="#fff" stroke="#333" stroke-width="0.8"/>
<rect x="78.3" y="47" width="18.8" height="13" fill="#00e000"/><rect x="97.2" y="47" width="18.8" height="13" fill="#ffc000"/><rect x="116" y="47" width="9.42" height="13" fill="#00e000"/>
<rect x="3" y="47" width="226" height="14" fill="url(#cells)"/><rect x="3" y="41" width="226" height="20" fill="url(#ticks)"/>
<line x1="3" y1="47" x2="229" y2="47" stroke="#888" stroke-width="0.6"/>
<text font-size="7.5" y="42" text-anchor="middle"><tspan x="7">0</tspan><tspan x="21.8">2</tspan><tspan x="40.7">4</tspan><tspan x="59.5">6</tspan><tspan x="78.3">8</tspan><tspan x="97.2">10</tspan><tspan x="116">12</tspan><tspan x="134.8">14</tspan><tspan x="153.7">16</tspan><tspan x="172.5">18</tspan><tspan x="191.3">20</tspan><tspan x="210.2">22</tspan></text>
</g>

<g transform="translate(647,956)">
<rect x="0" y="0" width="233" height="66" rx="4" fill="#fff" stroke="#1515e0" stroke-width="2"/>
<text x="8" y="10" font-size="8">(16号大阪港線上り)</text>
<text x="14" y="20" font-size="8">東大阪線上・森ノ宮付近先頭 ← 天保山付近</text>
<text x="8" y="30" font-size="8">ピーク時渋滞長:  9km　　ピーク時間帯:  15時</text>
<rect x="3" y="34" width="226" height="27" fill="#fff" stroke="#333" stroke-width="0.8"/>
<rect x="87.75" y="47" width="47.1" height="13" fill="#00e000"/><rect x="134.8" y="47" width="47.1" height="13" fill="#ffc000"/>
<rect x="3" y="47" width="226" height="14" fill="url(#cells)"/><rect x="3" y="41" width="226" height="20" fill="url(#ticks)"/>
<line x1="3" y1="47" x2="229" y2="47" stroke="#888" stroke-width="0.6"/>
<text font-size="7.5" y="42" text-anchor="middle"><tspan x="7">0</tspan><tspan x="21.8">2</tspan><tspan x="40.7">4</tspan><tspan x="59.5">6</tspan><tspan x="78.3">8</tspan><tspan x="97.2">10</tspan><tspan x="116">12</tspan><tspan x="134.8">14</tspan><tspan x="153.7">16</tspan><tspan x="172.5">18</tspan><tspan x="191.3">20</tspan><tspan x="210.2">22</tspan></text>
</g>

<text x="415" y="1043" font-size="11.5">環状線周辺　拡大図</text>
</svg>
</body></html>
